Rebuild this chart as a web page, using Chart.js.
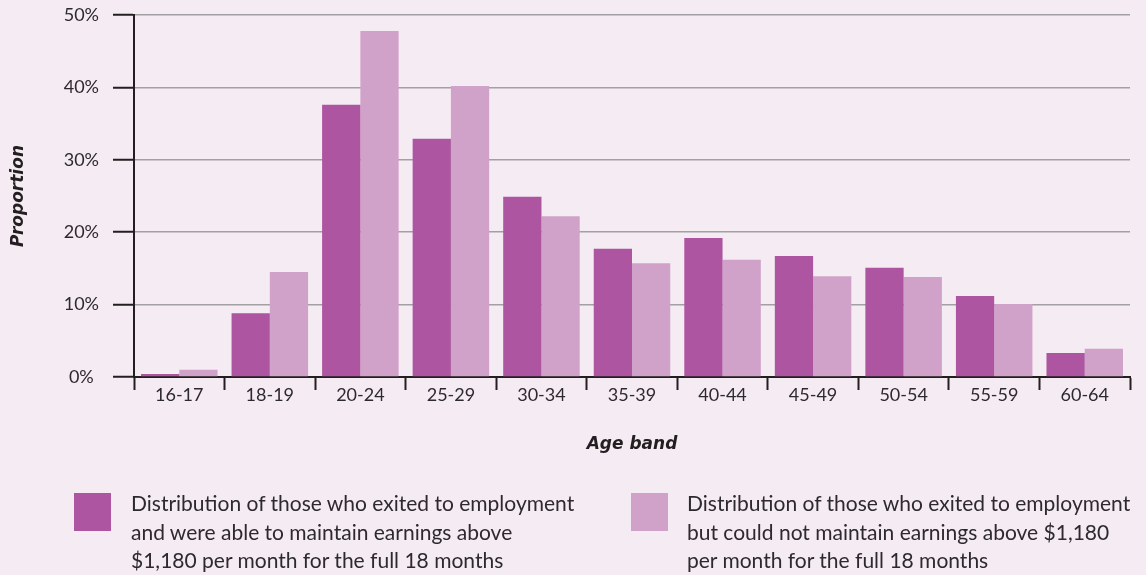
<!DOCTYPE html>
<html>
<head>
<meta charset="utf-8">
<script src="https://cdn.jsdelivr.net/npm/chart.js@4/dist/chart.umd.min.js"></script>
<style>
  html, body { margin:0; padding:0; background:#F5EBF3; }
  #wrap { position:relative; width:1146px; height:575px; overflow:hidden; }
  canvas { position:absolute; left:0; top:0; }
  .lg { position:absolute; font-family: Lato, "Open Sans", sans-serif; font-size:21px; line-height:28.5px; color:#2d2a2e; white-space:nowrap; }
  .box { position:absolute; width:37px; height:38px; }
</style>
</head>
<body>
<div id="wrap">
  <canvas id="c" width="1146" height="575"></canvas>
  <div class="box" style="left:74px; top:493px; background:#AD55A0;"></div>
  <div class="lg" id="lg1" style="left:131px; top:489px;"></div>
  <div class="box" style="left:631px; top:493px; background:#D0A2C9;"></div>
  <div class="lg" id="lg2" style="left:687px; top:489px;"></div>
</div>
<script>
const ageBands = ["16-17","18-19","20-24","25-29","30-34","35-39","40-44","45-49","50-54","55-59","60-64"];
const maintained = [0.4, 8.8, 37.6, 32.9, 24.9, 17.7, 19.2, 16.7, 15.1, 11.2, 3.3];
const notMaintained = [1.0, 14.5, 47.8, 40.2, 22.2, 15.7, 16.2, 13.9, 13.8, 10.1, 3.9];
const yTicks = [0, 10, 20, 30, 40, 50];
const seriesLabels = [
  ["Distribution of those who exited to employment", "and were able to maintain earnings above", "$1,180 per month for the full 18 months"],
  ["Distribution of those who exited to employment", "but could not maintain earnings above $1,180", "per month for the full 18 months"]
];
const xTitle = "Age band";
const yTitle = "Proportion";

const DARK = "#AD55A0", LIGHT = "#D0A2C9", INK = "#231F20";

function fillLegend(id, lines) {
  const el = document.getElementById(id);
  lines.forEach((t, i) => {
    if (i) el.appendChild(document.createElement("br"));
    el.appendChild(document.createTextNode(t));
  });
}
fillLegend("lg1", seriesLabels[0]);
fillLegend("lg2", seriesLabels[1]);

const titleFont = { family: "'DejaVu Sans'", size: 17, weight: "bold", style: "italic" };

new Chart(document.getElementById("c"), {
  type: "bar",
  data: {
    labels: ageBands,
    datasets: [
      { label: seriesLabels[0].join(" "), data: maintained, backgroundColor: DARK, borderWidth: 0 },
      { label: seriesLabels[1].join(" "), data: notMaintained, backgroundColor: LIGHT, borderWidth: 0 }
    ]
  },
  options: {
    responsive: false,
    animation: false,
    devicePixelRatio: 1,
    categoryPercentage: 0.845,
    barPercentage: 1.0,
    layout: { padding: { top: 15, right: 16, left: 0, bottom: 0 } },
    plugins: { legend: { display: false }, tooltip: { enabled: false } },
    scales: {
      x: {
        afterFit: s => { s.height = 198; s.paddingLeft = 0; s.paddingRight = 0; },
        grid: { offset: true, drawOnChartArea: false, tickLength: 13, tickColor: INK, tickWidth: 2 },
        border: { display: true, color: INK, width: 2 },
        ticks: { color: "#2d2a2e", font: { family: "Lato", size: 18 }, padding: -6, maxRotation: 0 },
        title: { display: true, text: xTitle, color: "#231F20", font: titleFont,
                 padding: { top: 0, bottom: 120 } }
      },
      y: {
        min: 0, max: 50,
        afterFit: s => { s.width = 134; s.paddingTop = 0; s.paddingBottom = 0; },
        afterBuildTicks: s => { s.ticks = yTicks.map(v => ({ value: v })); },
        grid: { color: "#A3A0A3", lineWidth: 1.5, tickLength: 21, tickColor: INK, tickWidth: 2 },
        border: { display: true, color: INK, width: 2 },
        ticks: { color: "#2d2a2e", font: { family: "Lato", size: 18 }, padding: 14, crossAlign: "center",
                 callback: v => v + "%" },
        title: { display: true, text: yTitle, color: "#231F20", font: titleFont,
                 padding: { top: 8, bottom: 0 } }
      }
    }
  }
});
</script>
</body>
</html>
